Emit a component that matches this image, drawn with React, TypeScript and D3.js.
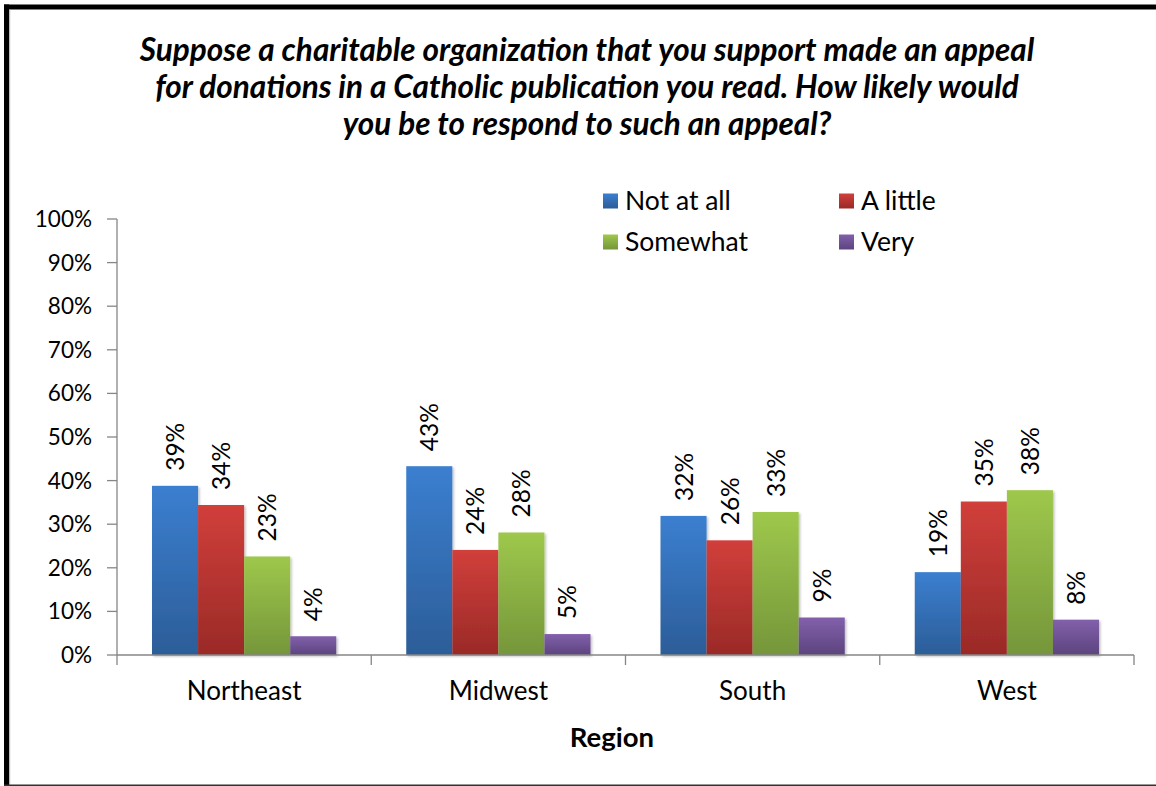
import React from "react";
import * as d3 from "d3";

const categories = ["Northeast", "Midwest", "South", "West"];
const seriesNames = ["Not at all", "A little", "Somewhat", "Very"];
const notAtAll = [38.8, 43.3, 31.9, 19.0];
const aLittle = [34.4, 24.1, 26.3, 35.2];
const somewhat = [22.6, 28.1, 32.8, 37.8];
const very = [4.3, 4.8, 8.6, 8.1];
const yTicks = [0, 10, 20, 30, 40, 50, 60, 70, 80, 90, 100];
const titleLines = [
  "Suppose a charitable organization that you support made an appeal",
  "for donations in a Catholic publication you read. How likely would",
  "you be to respond to such an appeal?",
];
const xAxisTitle = "Region";

const seriesValues = [notAtAll, aLittle, somewhat, very];
const gradients = [
  ["#3b7fd0", "#2c5d98"],
  ["#d13f3b", "#9a2a27"],
  ["#9ec84c", "#75963a"],
  ["#8260ab", "#5c447e"],
];

const W = 1156;
const H = 786;
const plot = { left: 117, right: 1134, top: 219, bottom: 655 };
const FONT = "Lato, 'Open Sans', sans-serif";

export default function App() {
  const x0 = d3
    .scaleBand<string>()
    .domain(categories)
    .range([plot.left, plot.right])
    .paddingInner(0)
    .paddingOuter(0);
  const x1 = d3
    .scaleBand<string>()
    .domain(seriesNames)
    .range([0, x0.bandwidth()])
    .paddingOuter(0.76)
    .paddingInner(0);
  const y = d3.scaleLinear().domain([0, 100]).range([plot.bottom, plot.top]);

  const boundaries = categories.map((c) => (x0(c) as number) + x0.bandwidth());

  return (
    <svg
      width={W}
      height={H}
      style={{ position: "absolute", left: 0, top: 0, background: "#fff" }}
      fontFamily={FONT}
    >
      <defs>
        {gradients.map((g, i) => (
          <linearGradient key={i} id={`g${i}`} x1="0" y1="0" x2="0" y2="1">
            <stop offset="0%" stopColor={g[0]} />
            <stop offset="100%" stopColor={g[1]} />
          </linearGradient>
        ))}
        <filter id="sh" x="-10%" y="-10%" width="130%" height="130%">
          <feDropShadow dx="1.5" dy="1.5" stdDeviation="1.2" floodColor="#000" floodOpacity="0.25" />
        </filter>
      </defs>
      <rect x={0} y={0} width={W} height={H} fill="#fff" />
      {/* frame */}
      <rect x={4} y={4.5} width={W - 4} height={5} fill="#000" />
      <rect x={4} y={4.5} width={5.2} height={H - 4.5} fill="#000" />
      <rect x={9.2} y={9.5} width={1} height={H - 10} fill="#bbb" />
      <rect x={4} y={784.5} width={W - 4} height={1.5} fill="#333" />

      {/* title */}
      <text
        textAnchor="middle"
        fontWeight="bold"
        fontStyle="italic"
        fontSize={31.5}
        fill="#000"
      >
        {titleLines.map((t, i) => (
          <tspan key={i} x={587} y={61 + i * 37}>
            {t}
          </tspan>
        ))}
      </text>

      {/* legend */}
      {seriesNames.map((s, i) => {
        const col = i % 2;
        const row = Math.floor(i / 2);
        const lx = 603 + col * 236;
        const ly = 201 + row * 41;
        return (
          <g key={s}>
            <rect x={lx} y={ly - 7.5} width={15} height={15} fill={`url(#g${i})`} />
            <text x={lx + 22} y={ly + 9} fontSize={26.5} fill="#000">
              {s}
            </text>
          </g>
        );
      })}

      {/* y axis */}
      <line x1={plot.left} x2={plot.left} y1={plot.top} y2={plot.bottom + 10} stroke="#868686" strokeWidth={1.3} />
      {yTicks.map((t) => (
        <g key={t}>
          <line x1={plot.left - 10} x2={plot.left} y1={y(t)} y2={y(t)} stroke="#868686" strokeWidth={1.3} />
          <text x={92} y={y(t) + 8} textAnchor="end" fontSize={22.5} fill="#000">
            {t}%
          </text>
        </g>
      ))}

      {/* bars */}
      {categories.map((c, ci) => (
        <g key={c} transform={`translate(${x0(c)},0)`}>
          {seriesNames.map((s, si) => {
            const v = seriesValues[si][ci];
            const bx = x1(s) as number;
            const bw = x1.bandwidth();
            return (
              <g key={s}>
                <rect
                  x={bx}
                  y={y(v)}
                  width={bw}
                  height={plot.bottom - y(v)}
                  fill={`url(#g${si})`}
                  filter="url(#sh)"
                />
                <text
                  transform={`translate(${bx + bw / 2 + 9},${y(v) - 15}) rotate(-90)`}
                  fontSize={24.5}
                  fill="#000"
                >
                  {Math.round(v)}%
                </text>
              </g>
            );
          })}
        </g>
      ))}

      {/* x axis */}
      <line x1={plot.left} x2={plot.right} y1={plot.bottom} y2={plot.bottom} stroke="#868686" strokeWidth={1.3} />
      {boundaries.map((b, i) => (
        <line key={i} x1={b} x2={b} y1={plot.bottom} y2={plot.bottom + 10} stroke="#868686" strokeWidth={1.3} />
      ))}
      {categories.map((c) => (
        <text
          key={c}
          x={(x0(c) as number) + x0.bandwidth() / 2}
          y={700}
          textAnchor="middle"
          fontSize={26}
          fill="#000"
        >
          {c}
        </text>
      ))}
      <text x={612} y={747} textAnchor="middle" fontSize={27.5} fontWeight="bold" fill="#000">
        {xAxisTitle}
      </text>
    </svg>
  );
}
